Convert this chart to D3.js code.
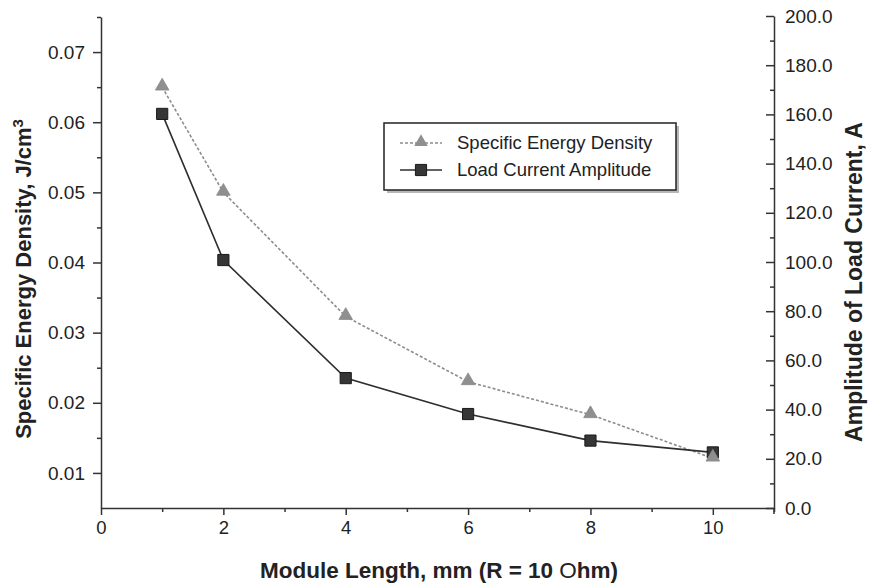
<!DOCTYPE html>
<html><head><meta charset="utf-8">
<script src="https://cdn.jsdelivr.net/npm/d3@7"></script>
<style>body{margin:0;background:#fff}svg{display:block}text{font-family:"Liberation Sans",Arial,sans-serif}</style>
</head><body><svg id="c" width="872" height="583"></svg>
<script>
const moduleLength = [1, 2, 4, 6, 8, 10];
const energyDensity = [0.065, 0.050, 0.0323, 0.0230, 0.0183, 0.0121];
const loadCurrent = [160.2, 100.8, 52.8, 38.2, 27.4, 22.6];
const xTicks = [0, 2, 4, 6, 8, 10];
const leftTicks = [0.01, 0.02, 0.03, 0.04, 0.05, 0.06, 0.07];
const rightTicks = [0, 20, 40, 60, 80, 100, 120, 140, 160, 180, 200];
const seriesNames = ["Specific Energy Density", "Load Current Amplitude"];

const svg = d3.select("#c");
svg.append("rect").attr("width",872).attr("height",583).attr("fill","#fff");
const x = d3.scaleLinear().domain([0, 11]).range([101, 774]);
const yL = d3.scaleLinear().domain([0.005, 0.075]).range([508, 17]);
const yR = d3.scaleLinear().domain([0, 200]).range([508, 16]);
const axisCol = "#333";

// bottom axis
const gx = svg.append("g").attr("transform","translate(0,508)")
  .call(d3.axisBottom(x).tickValues(xTicks).tickSize(7).tickPadding(6).tickSizeOuter(0).tickFormat(d3.format("d")));
gx.selectAll("text").attr("font-size",18.5).attr("fill","#222");
svg.append("g").attr("transform","translate(0,508)")
  .call(d3.axisBottom(x).tickValues([1,3,5,7,9,11]).tickSize(4).tickSizeOuter(0).tickFormat(""))
  .select(".domain").remove();

// left axis
const gl = svg.append("g").attr("transform","translate(101,0)")
  .call(d3.axisLeft(yL).tickValues(leftTicks).tickSize(8).tickPadding(8).tickSizeOuter(0).tickFormat(d3.format(".2f")));
gl.selectAll("text").attr("font-size",19).attr("fill","#222");
svg.append("g").attr("transform","translate(101,0)")
  .call(d3.axisLeft(yL).tickValues([0.015,0.025,0.035,0.045,0.055,0.065,0.075]).tickSize(4).tickSizeOuter(0).tickFormat(""))
  .select(".domain").remove();

// right axis (ticks pointing inward)
const gr = svg.append("g").attr("transform","translate(774,0)")
  .call(d3.axisRight(yR).tickValues(rightTicks).tickSize(-8).tickPadding(11).tickSizeOuter(0).tickFormat(d3.format(".1f")));
gr.selectAll("text").attr("font-size",19).attr("fill","#222").attr("x",11);
svg.append("g").attr("transform","translate(774,0)")
  .call(d3.axisRight(yR).tickValues([10,30,50,70,90,110,130,150,170,190]).tickSize(-4).tickSizeOuter(0).tickFormat(""))
  .select(".domain").remove();
svg.append("line").attr("x1",774).attr("x2",774).attr("y1",508).attr("y2",514).attr("stroke",axisCol).attr("stroke-width",1.5);

svg.selectAll(".domain, .tick line").attr("stroke",axisCol).attr("stroke-width",1.5);

// series
const ptsE = moduleLength.map((m,i)=>[x(m), yL(energyDensity[i])]);
const ptsC = moduleLength.map((m,i)=>[x(m), yR(loadCurrent[i])]);
const line = d3.line();
svg.append("path").attr("d",line(ptsE)).attr("fill","none").attr("stroke","#8c8c8c").attr("stroke-width",1.6).attr("stroke-dasharray","3,2");
svg.append("path").attr("d",line(ptsC)).attr("fill","none").attr("stroke","#2e2e2e").attr("stroke-width",1.6);
const tri = d3.symbol().type(d3.symbolTriangle).size(80);
const sq = d3.symbol().type(d3.symbolSquare).size(125);
svg.selectAll(".sq").data(ptsC).join("path").attr("d",sq).attr("transform",d=>`translate(${d[0]},${d[1]})`)
  .attr("fill","#363636").attr("stroke","#1a1a1a").attr("stroke-width",1);
svg.selectAll(".tri").data(ptsE).join("path").attr("d",tri).attr("transform",d=>`translate(${d[0]},${d[1]-1})`)
  .attr("fill","#8f8f8f").attr("stroke","#8a8a8a").attr("stroke-width",0.8);

// legend
const lg = svg.append("g");
lg.append("rect").attr("x",387).attr("y",126).attr("width",292).attr("height",67).attr("fill","#888").attr("opacity",0.6);
lg.append("rect").attr("x",384).attr("y",123).attr("width",292).attr("height",67).attr("fill","#fff").attr("stroke","#222").attr("stroke-width",1.5);
const rows = [143, 170];
lg.append("line").attr("x1",400).attr("x2",442).attr("y1",rows[0]).attr("y2",rows[0]).attr("stroke","#8c8c8c").attr("stroke-width",1.5).attr("stroke-dasharray","3,2");
lg.append("path").attr("d",tri).attr("transform",`translate(421,${rows[0]-1})`).attr("fill","#8f8f8f");
lg.append("line").attr("x1",400).attr("x2",442).attr("y1",rows[1]).attr("y2",rows[1]).attr("stroke","#2e2e2e").attr("stroke-width",1.6);
lg.append("path").attr("d",sq).attr("transform",`translate(421,${rows[1]})`).attr("fill","#363636").attr("stroke","#1a1a1a");
seriesNames.forEach((n,i)=>lg.append("text").attr("x",457).attr("y",rows[i]+6).attr("font-size",18.5).attr("fill","#222").text(n));

// axis titles
const xt = svg.append("text").attr("x",439).attr("y",578).attr("text-anchor","middle").attr("font-size",22.5).attr("font-weight","bold").attr("fill","#222");
xt.append("tspan").text("Module Length, mm (R = 10 ");
xt.append("tspan").attr("font-weight","normal").text("O");
xt.append("tspan").text("hm)");
const yl = svg.append("text").attr("transform","translate(31,279) rotate(-90)").attr("text-anchor","middle").attr("font-size",22).attr("font-weight","bold").attr("fill","#222");
yl.append("tspan").text("Specific Energy Density, J/cm");
yl.append("tspan").attr("dy",-8).attr("font-size",15).text("3");
svg.append("text").attr("transform","translate(862,282) rotate(-90)").attr("text-anchor","middle").attr("font-size",23).attr("font-weight","bold").attr("fill","#222").text("Amplitude of Load Current, A");
</script></body></html>
